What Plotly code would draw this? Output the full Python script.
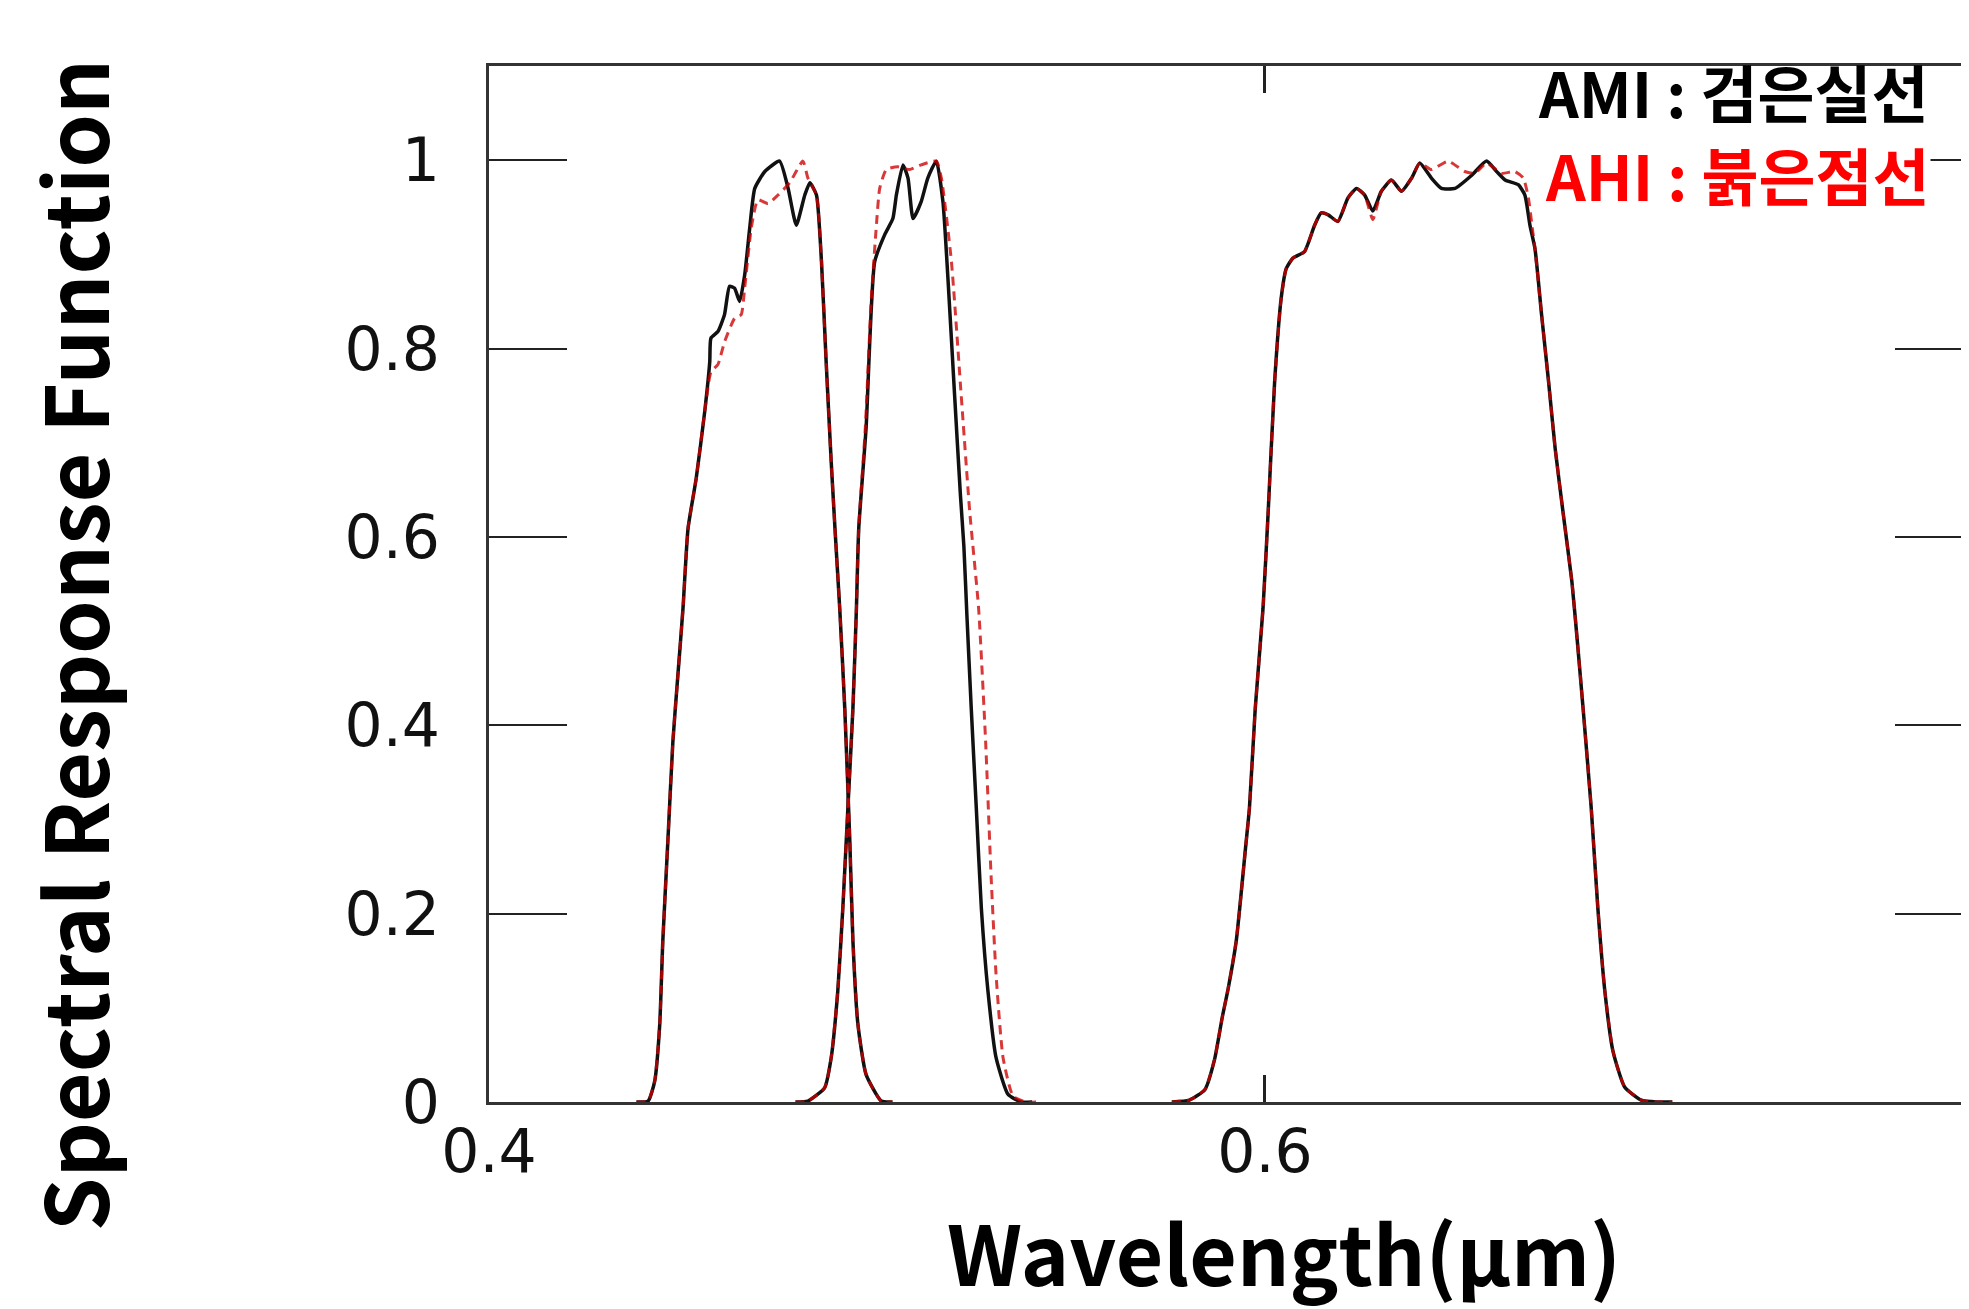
import plotly.graph_objects as go

# ---------------- data ----------------
ami_b1_x = [0.4380, 0.4410, 0.4427, 0.4440, 0.4448, 0.4461, 0.4474, 0.4487, 0.4500, 0.4513,
            0.4534, 0.4556, 0.4569, 0.4572, 0.4590, 0.4607, 0.4620, 0.4633, 0.4646, 0.4659,
            0.4672, 0.4685, 0.4711, 0.4749, 0.4771, 0.4792, 0.4814, 0.4827, 0.4844, 0.4857,
            0.4869, 0.4882, 0.4893, 0.4904, 0.4917, 0.4930, 0.4938, 0.4951, 0.4972, 0.5011, 0.5040]
ami_b1_y = [0, 0.001, 0.022, 0.082, 0.171, 0.277, 0.383, 0.454, 0.524, 0.609,
            0.662, 0.733, 0.786, 0.811, 0.818, 0.836, 0.866, 0.864, 0.850, 0.878,
            0.928, 0.970, 0.988, 0.999, 0.970, 0.931, 0.963, 0.976, 0.963, 0.892,
            0.786, 0.680, 0.600, 0.524, 0.418, 0.277, 0.171, 0.082, 0.029, 0.001, 0]

ahi_b1_x = [0.4380, 0.4410, 0.4427, 0.4440, 0.4448, 0.4461, 0.4474, 0.4487, 0.4500, 0.4513,
            0.4534, 0.4556, 0.4572, 0.4590, 0.4607, 0.4633, 0.4650, 0.4659, 0.4676, 0.4693,
            0.4719, 0.4745, 0.4775, 0.4809, 0.4822, 0.4844, 0.4857, 0.4869, 0.4882, 0.4893,
            0.4904, 0.4917, 0.4930, 0.4938, 0.4951, 0.4972, 0.5011, 0.5040]
ahi_b1_y = [0, 0.001, 0.022, 0.082, 0.171, 0.277, 0.383, 0.454, 0.524, 0.609,
            0.662, 0.733, 0.775, 0.783, 0.807, 0.832, 0.836, 0.864, 0.928, 0.958,
            0.954, 0.963, 0.976, 0.999, 0.981, 0.963, 0.892, 0.786, 0.680, 0.600,
            0.524, 0.418, 0.277, 0.171, 0.082, 0.029, 0.001, 0]

ami_b2_x = [0.4790, 0.4822, 0.4865, 0.4882, 0.4899, 0.4912, 0.4925, 0.4938, 0.4947, 0.4953,
            0.4972, 0.4994, 0.5020, 0.5041, 0.5050, 0.5067, 0.5080, 0.5093, 0.5114, 0.5131,
            0.5153, 0.5170, 0.5183, 0.5200, 0.5215, 0.5224, 0.5232, 0.5243, 0.5256, 0.5269,
            0.5286, 0.5307, 0.5338, 0.5372, 0.5400]
ami_b2_y = [0, 0.001, 0.015, 0.047, 0.118, 0.206, 0.312, 0.418, 0.524, 0.609,
            0.716, 0.892, 0.921, 0.938, 0.963, 0.995, 0.981, 0.938, 0.956, 0.981,
            0.999, 0.956, 0.874, 0.751, 0.645, 0.590, 0.515, 0.418, 0.312, 0.206,
            0.118, 0.047, 0.008, 0, 0]

ahi_b2_x = [0.4790, 0.4822, 0.4865, 0.4882, 0.4899, 0.4912, 0.4925, 0.4938, 0.4947, 0.4953,
            0.4970, 0.4985, 0.4998, 0.5007, 0.5024, 0.5054, 0.5084, 0.5114, 0.5153, 0.5166,
            0.5192, 0.5217, 0.5239, 0.5262, 0.5280, 0.5294, 0.5307, 0.5325, 0.5351, 0.5385, 0.5410]
ahi_b2_y = [0, 0.001, 0.015, 0.047, 0.118, 0.206, 0.312, 0.418, 0.524, 0.609,
            0.716, 0.850, 0.928, 0.970, 0.990, 0.993, 0.990, 0.995, 0.999, 0.981,
            0.892, 0.751, 0.627, 0.524, 0.383, 0.241, 0.135, 0.047, 0.006, 0, 0]

ami_b3_x = [0.5760, 0.5805, 0.5845, 0.5870, 0.5890, 0.5905, 0.5926, 0.5935, 0.5950, 0.5960,
            0.5975, 0.5995, 0.6008, 0.6025, 0.6042, 0.6055, 0.6072, 0.6102, 0.6128, 0.6145,
            0.6163, 0.6188, 0.6214, 0.6236, 0.6257, 0.6278, 0.6300, 0.6326, 0.6352, 0.6378,
            0.6399, 0.6429, 0.6455, 0.6490, 0.6533, 0.6571, 0.6597, 0.6619, 0.6653, 0.6670,
            0.6683, 0.6696, 0.6713, 0.6731, 0.6748, 0.6769, 0.6791, 0.6805, 0.6820, 0.6841,
            0.6858, 0.6876, 0.6897, 0.6927, 0.6970, 0.7010, 0.7050]
ami_b3_y = [0, 0.002, 0.013, 0.045, 0.090, 0.120, 0.171, 0.206, 0.270, 0.312,
            0.418, 0.524, 0.624, 0.765, 0.854, 0.885, 0.896, 0.903, 0.931, 0.944,
            0.942, 0.935, 0.960, 0.970, 0.963, 0.946, 0.967, 0.979, 0.967, 0.981,
            0.997, 0.981, 0.970, 0.970, 0.984, 0.999, 0.988, 0.979, 0.974, 0.963,
            0.931, 0.906, 0.836, 0.765, 0.694, 0.624, 0.553, 0.490, 0.418, 0.312,
            0.206, 0.118, 0.054, 0.016, 0.002, 0, 0]

ahi_b3_x = [0.5760, 0.5805, 0.5845, 0.5870, 0.5890, 0.5905, 0.5926, 0.5935, 0.5950, 0.5960,
            0.5975, 0.5995, 0.6008, 0.6025, 0.6042, 0.6055, 0.6072, 0.6102, 0.6128, 0.6145,
            0.6163, 0.6188, 0.6214, 0.6236, 0.6257, 0.6278, 0.6300, 0.6326, 0.6352, 0.6378,
            0.6399, 0.6429, 0.6472, 0.6515, 0.6541, 0.6571, 0.6610, 0.6644, 0.6666, 0.6679,
            0.6690, 0.6696, 0.6713, 0.6731, 0.6748, 0.6769, 0.6791, 0.6805, 0.6820, 0.6841,
            0.6858, 0.6876, 0.6897, 0.6927, 0.6970, 0.7010, 0.7050]
ahi_b3_y = [0, 0.002, 0.013, 0.045, 0.090, 0.120, 0.171, 0.206, 0.270, 0.312,
            0.418, 0.524, 0.624, 0.765, 0.854, 0.885, 0.896, 0.903, 0.931, 0.944,
            0.942, 0.935, 0.960, 0.970, 0.963, 0.937, 0.967, 0.979, 0.967, 0.981,
            0.997, 0.990, 0.999, 0.988, 0.986, 0.997, 0.986, 0.988, 0.981, 0.960,
            0.925, 0.906, 0.836, 0.765, 0.694, 0.624, 0.553, 0.490, 0.418, 0.312,
            0.206, 0.118, 0.054, 0.016, 0.002, 0, 0]

x_tick_vals = [0.4, 0.6]
x_tick_text = ["0.4", "0.6"]
y_tick_vals = [0, 0.2, 0.4, 0.6, 0.8, 1]
y_tick_text = ["0", "0.2", "0.4", "0.6", "0.8", "1"]

x_title = "Wavelength(μm)"
y_title = "Spectral Response Function"
legend_ami = "AMI : 검은실선"
legend_ahi = "AHI : 붉은점선"

# ---------------- figure ----------------
fig = go.Figure()

ami_bands = [(ami_b1_x, ami_b1_y), (ami_b2_x, ami_b2_y), (ami_b3_x, ami_b3_y)]
ahi_bands = [(ahi_b1_x, ahi_b1_y), (ahi_b2_x, ahi_b2_y), (ahi_b3_x, ahi_b3_y)]

for bx, by in ami_bands:
    fig.add_trace(go.Scatter(x=bx, y=by, mode="lines", showlegend=False, name="AMI",
                             line=dict(color="#111111", width=3.5, shape="spline", smoothing=0.5)))
for bx, by in ahi_bands:
    fig.add_trace(go.Scatter(x=bx, y=by, mode="lines", showlegend=False, name="AHI",
                             line=dict(color="rgba(205,0,0,0.78)", width=3, dash="9px,6px",
                                       shape="spline", smoothing=0.5)))

tick_font = dict(family="DejaVu Sans, Liberation Sans, sans-serif", size=60, color="#111")
title_font = "Noto Sans CJK KR, Noto Sans, sans-serif"

fig.update_layout(
    template="none",
    width=1969, height=1309,
    margin=dict(l=481, r=4, t=58, b=215, autoexpand=False),
    paper_bgcolor="white", plot_bgcolor="white",
    showlegend=False,
    xaxis=dict(range=[0.4, 0.7825], tickvals=x_tick_vals, ticktext=x_tick_text,
               ticks="inside", ticklen=27, tickwidth=2.5, tickcolor="#222",
               showline=True, linecolor="#333", linewidth=2.5, mirror="ticks",
               showgrid=False, zeroline=False, tickfont=tick_font, automargin=False,
               ticklabelstandoff=-5),
    yaxis=dict(range=[0, 1.1], tickvals=y_tick_vals, ticktext=y_tick_text,
               ticks="inside", ticklen=78, tickwidth=1.5, tickcolor="#222",
               showline=True, linecolor="#333", linewidth=3, mirror="ticks",
               showgrid=False, zeroline=False, tickfont=tick_font, automargin=False,
               ticklabelstandoff=34),
)

fig.add_annotation(text=f"<b>{y_title}</b>", xref="paper", yref="paper",
                   x=-0.2816, y=0.441, xanchor="center", yanchor="middle",
                   textangle=-90, showarrow=False,
                   font=dict(family=title_font, size=86, color="#000"))
fig.add_annotation(text=f"<b>{x_title}</b>", xref="paper", yref="paper",
                   x=0.536, y=-0.143, xanchor="center", yanchor="middle",
                   showarrow=False,
                   font=dict(family=title_font, size=82, color="#000"))
# red entry first (its white box hides the tick behind it), black entry drawn on top
fig.add_annotation(text=f"<b>{legend_ahi}</b>", xref="paper", yref="paper",
                   x=0.972, y=0.8955, xanchor="right", yanchor="middle",
                   showarrow=False, bgcolor="white", borderpad=0,
                   font=dict(family=title_font, size=62, color="#ff0000"))
fig.add_annotation(text=f"<b>{legend_ami}</b>", xref="paper", yref="paper",
                   x=0.972, y=0.976, xanchor="right", yanchor="middle",
                   showarrow=False,
                   font=dict(family=title_font, size=62, color="#000"))

fig.write_html("out.html")
